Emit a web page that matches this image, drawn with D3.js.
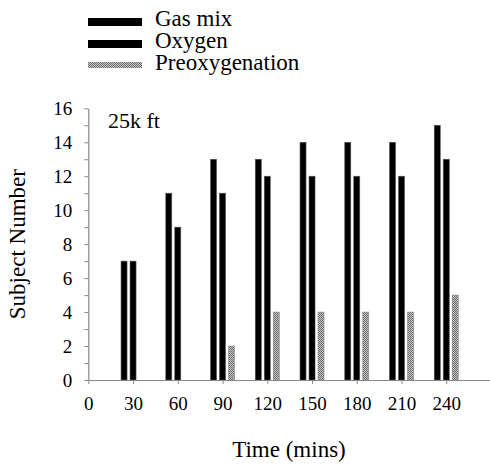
<!DOCTYPE html>
<html><head><meta charset="utf-8">
<script src="https://cdn.jsdelivr.net/npm/d3@7"></script>
<style>body{margin:0;background:#fff}svg{display:block}text{font-family:"Liberation Serif","Times New Roman",serif;fill:#000}</style>
</head><body><svg id="c" width="490" height="466"></svg>
<script>
const times = [30, 60, 90, 120, 150, 180, 210, 240];
const gasMix = [7, 11, 13, 13, 14, 14, 14, 15];
const oxygen = [7, 9, 11, 12, 12, 12, 12, 13];
const preoxygenation = [0, 0, 2, 4, 4, 4, 4, 5];
const seriesNames = ["Gas mix", "Oxygen", "Preoxygenation"];
const xTicks = [0, 30, 60, 90, 120, 150, 180, 210, 240];
const yTicks = [0, 2, 4, 6, 8, 10, 12, 14, 16];
const annotation = "25k ft";

const svg = d3.select("#c");
const defs = svg.append("defs");
const pat = defs.append("pattern").attr("id","stip").attr("width",2).attr("height",2).attr("patternUnits","userSpaceOnUse");
pat.append("rect").attr("width",2).attr("height",2).attr("fill","#c8c8c8");
pat.append("rect").attr("width",1).attr("height",1).attr("fill","#6a6a6a");
pat.append("rect").attr("x",1).attr("y",1).attr("width",1).attr("height",1).attr("fill","#6a6a6a");

const x = d3.scaleLinear().domain([0, 270]).range([88.3, 491]);
const y = d3.scaleLinear().domain([0, 16]).range([380, 108.3]);
const offset = d3.scaleBand().domain(seriesNames).range([-12, 12]).paddingInner(1/3).paddingOuter(0);
const fills = ["#000", "#000", "url(#stip)"];
const strokes = ["#555", "#555", "#888"];
const vals = [gasMix, oxygen, preoxygenation];

// bars
seriesNames.forEach((s, si) => {
  svg.append("g").selectAll("rect").data(times.map((t, i) => ({t, v: vals[si][i]})).filter(d => d.v > 0))
    .join("rect")
    .attr("x", d => x(d.t) + offset(s))
    .attr("width", offset.bandwidth())
    .attr("y", d => y(d.v))
    .attr("height", d => y(0) - y(d.v))
    .attr("fill", fills[si])
    .attr("stroke", strokes[si]).attr("stroke-width", 0.6);
});

// axes
const gx = svg.append("g").attr("transform", `translate(0,${y(0)})`)
  .call(d3.axisBottom(x).tickValues(xTicks).tickSize(4).tickPadding(13).tickSizeOuter(0));
gx.select(".domain").attr("stroke", "#888").attr("stroke-width", 1.2);
gx.selectAll(".tick line").attr("stroke", "#888");
gx.selectAll(".tick text").attr("font-size", 19).attr("font-family", "Liberation Serif");

const gy = svg.append("g").attr("transform", `translate(${x(0)},0)`)
  .call(d3.axisLeft(y).ticks(16).tickSize(4).tickPadding(12).tickSizeOuter(0)
    .tickFormat(d => yTicks.includes(d) ? d : ""));
gy.select(".domain").attr("stroke", "#888").attr("stroke-width", 1.2);
gy.selectAll(".tick line").attr("stroke", "#888");
gy.selectAll(".tick text").attr("font-size", 19).attr("font-family", "Liberation Serif").attr("dy", "0.34em");

svg.append("text").attr("x", 108).attr("y", 128).attr("font-size", 22).text(annotation);

svg.append("text").attr("transform", `translate(25,${(y(0)+y(16))/2}) rotate(-90)`)
  .attr("text-anchor", "middle").attr("font-size", 23).text("Subject Number");
svg.append("text").attr("x", 289).attr("y", 457).attr("text-anchor", "middle").attr("font-size", 23).text("Time (mins)");

// legend
const lg = svg.append("g");
const ly = [26, 48, 70];
seriesNames.forEach((s, i) => {
  lg.append("rect").attr("x", 88).attr("y", i === 2 ? ly[i] - 8 : ly[i] - 8).attr("width", 54).attr("height", i === 2 ? 6 : 8)
    .attr("fill", fills[i]);
  lg.append("text").attr("x", 155).attr("y", ly[i]).attr("font-size", 23).text(s);
});
</script></body></html>
